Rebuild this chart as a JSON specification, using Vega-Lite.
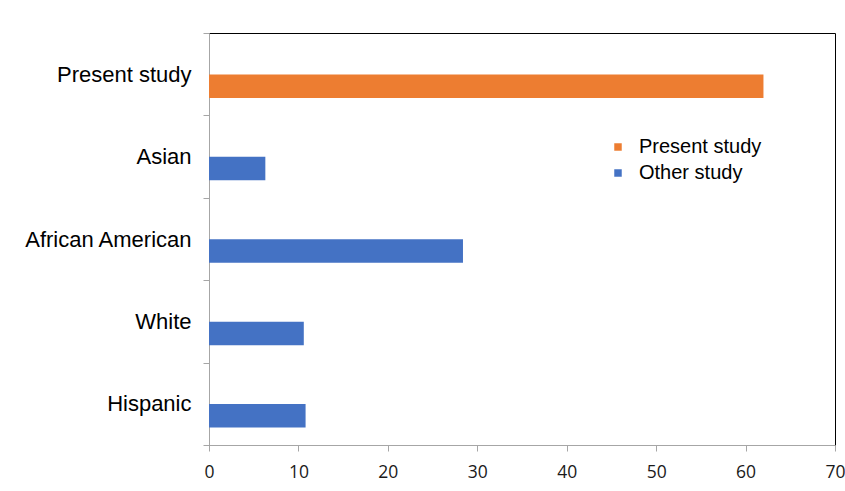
{
  "$schema": "https://vega.github.io/schema/vega-lite/v6.json",
  "width": 626,
  "height": 412,
  "autosize": "none",
  "padding": {"left": 209, "top": 33, "right": 10, "bottom": 46},
  "background": "white",
  "config": {
    "view": {"stroke": "black", "strokeWidth": 1},
    "font": "Liberation Sans"
  },
  "data": {
    "values": [
      {"group": "Present study", "value": 62.0, "series": "Present study"},
      {"group": "Asian", "value": 6.3, "series": "Other study"},
      {"group": "African American", "value": 28.4, "series": "Other study"},
      {"group": "White", "value": 10.6, "series": "Other study"},
      {"group": "Hispanic", "value": 10.8, "series": "Other study"}
    ]
  },
  "mark": {"type": "bar", "height": {"band": 0.285}, "yOffset": 12},
  "encoding": {
    "y": {
      "field": "group",
      "type": "nominal",
      "sort": ["Present study", "Asian", "African American", "White", "Hispanic"],
      "scale": {"paddingInner": 0, "paddingOuter": 0},
      "axis": {
        "title": null,
        "tickBand": "extent",
        "domainColor": "#a6a6a6",
        "tickColor": "#a6a6a6",
        "tickSize": 6,
        "labelFont": "Liberation Sans",
        "labelFontSize": 22,
        "labelColor": "#000000",
        "labelPadding": 12,
        "labelLimit": 300
      }
    },
    "x": {
      "field": "value",
      "type": "quantitative",
      "scale": {"domain": [0, 70], "nice": false},
      "axis": {
        "title": null,
        "values": [0, 10, 20, 30, 40, 50, 60, 70],
        "grid": false,
        "domainColor": "#a6a6a6",
        "tickColor": "#a6a6a6",
        "tickSize": 6,
        "labelFont": "Open Sans",
        "labelFontSize": 17.5,
        "labelColor": "#1a1a1a",
        "labelPadding": 12,
        "labelFlush": false
      }
    },
    "color": {
      "field": "series",
      "type": "nominal",
      "scale": {"domain": ["Present study", "Other study"], "range": ["#ED7D31", "#4472C4"]},
      "legend": {
        "title": null,
        "orient": "none",
        "legendX": 399,
        "legendY": 104,
        "padding": 0,
        "symbolType": "square",
        "symbolSize": 56,
        "symbolStrokeWidth": 0,
        "labelFont": "Liberation Sans",
        "labelFontSize": 20,
        "labelColor": "#000000",
        "labelOffset": 11,
        "rowPadding": 6
      }
    }
  }
}
